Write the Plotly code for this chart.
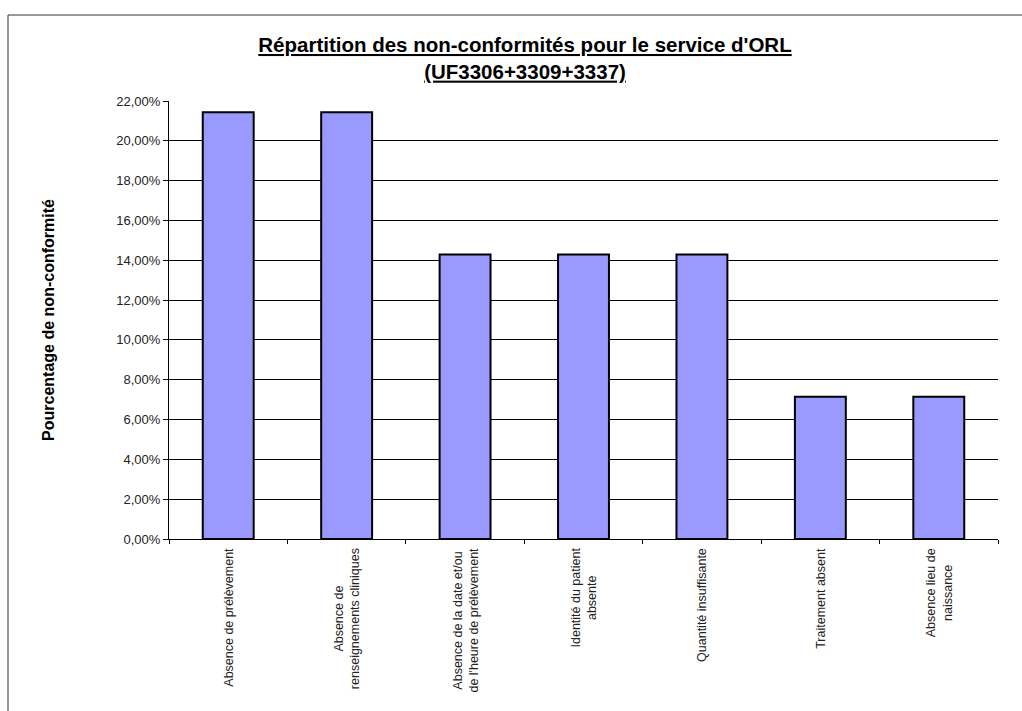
import plotly.graph_objects as go

categories = [
    "Absence de prélèvement",
    "Absence de<br>renseignements cliniques",
    "Absence de la date et/ou<br>de l'heure de prélèvement",
    "Identité du patient<br>absente",
    "Quantité insuffisante",
    "Traitement absent",
    "Absence lieu de<br>naissance",
]
values = [0.2143, 0.2143, 0.1429, 0.1429, 0.1429, 0.0714, 0.0714]
y_ticks = [0.00, 0.02, 0.04, 0.06, 0.08, 0.10, 0.12, 0.14, 0.16, 0.18, 0.20, 0.22]
title_text = "<u><b>Répartition des non-conformités pour le service d'ORL</b></u><br><u><b>(UF3306+3309+3337)</b></u>"
y_title = "Pourcentage de non-conformité"

FONT = "Liberation Sans, Arial, sans-serif"

fig = go.Figure()
fig.add_trace(go.Bar(
    x=list(range(len(categories))),
    y=values,
    width=0.43,
    marker=dict(color="#9999FF", line=dict(color="black", width=2)),
    hoverinfo="skip",
))

for i, lab in enumerate(categories):
    fig.add_annotation(
        x=i, xref="x", y=0, yref="paper", yshift=-7,
        text=lab, textangle=-90, showarrow=False,
        xanchor="center", yanchor="top", align="center",
        font=dict(family=FONT, size=12.5, color="#222"),
    )

fig.update_layout(
    width=1022, height=711,
    margin=dict(l=169, r=24, t=101, b=172),
    paper_bgcolor="white", plot_bgcolor="white",
    separators=", ",
    showlegend=False,
    bargap=0.57,
    title=dict(
        text=title_text, x=525 / 1022, xanchor="center", xref="container",
        y=1 - 52 / 711, yanchor="top", yref="container",
        font=dict(family=FONT, size=20.5, color="black"),
    ),
    font=dict(family=FONT),
)

fig.update_xaxes(
    range=[-0.5, len(categories) - 0.5],
    tickvals=[i + 0.5 for i in range(-1, len(categories))],
    ticktext=[""] * (len(categories) + 1),
    ticks="outside", ticklen=4, tickcolor="black", tickwidth=1,
    showline=True, linecolor="black", linewidth=1,
    showgrid=False, zeroline=False,
)
fig.update_yaxes(
    range=[0, 0.22],
    tickvals=y_ticks, tickformat=".2%",
    ticks="outside", ticklen=5, tickcolor="black", tickwidth=1,
    showline=True, linecolor="black", linewidth=1,
    showgrid=True, gridcolor="black", gridwidth=1,
    zeroline=False,
    tickfont=dict(family=FONT, size=13, color="#222"),
    title=dict(text="<b>" + y_title + "</b>", standoff=57,
               font=dict(family=FONT, size=16, color="black")),
)

# outer frame (top and left edges)
fig.add_shape(type="line", xref="paper", yref="paper",
              x0=(8 - 169) / 829, x1=(1030 - 169) / 829,
              y0=(539 - 15) / 438, y1=(539 - 15) / 438,
              line=dict(color="#333", width=1))
fig.add_shape(type="line", xref="paper", yref="paper",
              x0=(8 - 169) / 829, x1=(8 - 169) / 829,
              y0=(539 - 15) / 438, y1=(539 - 730) / 438,
              line=dict(color="#333", width=1))

fig.write_html("out.html")
